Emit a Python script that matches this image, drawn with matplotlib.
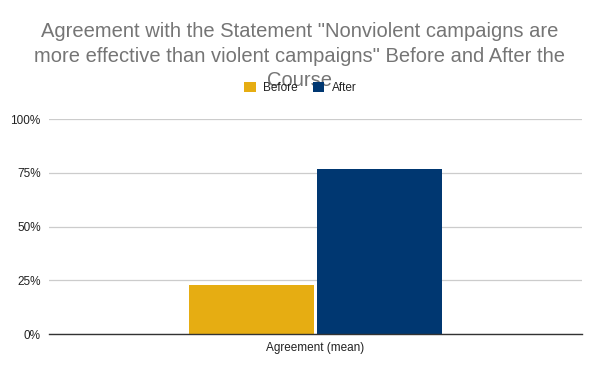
import matplotlib
matplotlib.use('Agg')
import matplotlib.pyplot as plt
from matplotlib.ticker import PercentFormatter

# data
categories = ['Agreement (mean)']
series_names = ['Before', 'After']
before = [0.227]
after = [0.767]
colors = ['#e6ad12', '#003771']
title_lines = ['Agreement with the Statement "Nonviolent campaigns are',
               'more effective than violent campaigns" Before and After the',
               'Course']

plt.rcParams['font.family'] = ['Liberation Sans', 'DejaVu Sans']

fig = plt.figure(figsize=(6, 3.71), dpi=100)
ax = fig.add_axes([0.0817, 0.0997, 0.8883, 0.5795])

w = 0.236
x = list(range(len(categories)))
ax.bar([i - w / 2 - 0.002 for i in x], before, width=w, color=colors[0], label=series_names[0], zorder=3)
ax.bar([i + w / 2 + 0.002 for i in x], after, width=w, color=colors[1], label=series_names[1], zorder=3)

ax.set_xlim(-0.5, 0.5)
ax.set_ylim(0, 1)
ax.set_yticks([0, 0.25, 0.5, 0.75, 1.0])
ax.yaxis.set_major_formatter(PercentFormatter(1.0, decimals=0))
ax.set_xticks(x)
ax.set_xticklabels(categories)
ax.tick_params(axis='both', length=0, labelsize=8.5, colors='#222222', pad=6)
ax.grid(axis='y', color='#cccccc', linewidth=0.9, zorder=0)
for s in ['top', 'right', 'left']:
    ax.spines[s].set_visible(False)
ax.spines['bottom'].set_color('#333333')
ax.spines['bottom'].set_linewidth(1)
ax.spines['bottom'].set_zorder(4)

# title: three lines, placed by baseline like the original
for line, base in zip(title_lines, [37, 61.5, 86]):
    fig.text(0.5, 1 - base / 371, line, ha='center', va='baseline',
             fontsize=14.5, color='#757575')

fig.legend(loc='center', bbox_to_anchor=(0.5, 1 - 88 / 371), ncol=2, frameon=False,
           fontsize=8.5, handlelength=1.0, handleheight=1.0, handletextpad=0.6,
           columnspacing=1.3, labelcolor='#222222')

fig.savefig('out.png', dpi=100, facecolor='white')
